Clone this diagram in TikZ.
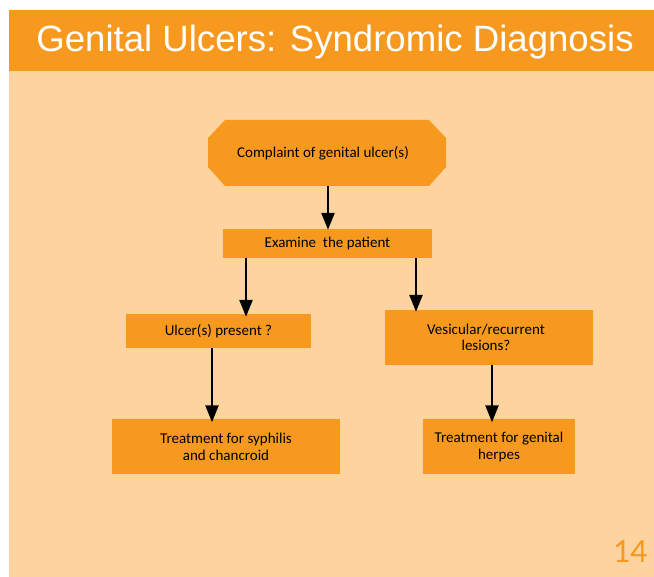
\documentclass[tikz,border=0pt]{standalone}
\usepackage{fontspec}
\setmainfont{Carlito}
\newfontfamily\titlefont{Liberation Sans}
\usetikzlibrary{arrows.meta}
\definecolor{slideorange}{HTML}{F7991F}
\definecolor{slidepeach}{HTML}{FDD3A0}
\definecolor{pagenum}{HTML}{F7991F}
\begin{document}
\begin{tikzpicture}[x=1pt,y=-1pt,
  box/.style={fill=slideorange,draw=none,align=center,font=\fontsize{15}{16.5}\selectfont,text=black,inner sep=0pt},
  flow/.style={-{Triangle[length=17pt,width=13pt]},line width=2.5pt,black}]
\useasboundingbox (0,0) rectangle (654,577);
% slide background and title band
\fill[white] (0,0) rectangle (654,577);
\fill[slidepeach] (9,10) rectangle (654,577);
\fill[slideorange] (9,10) rectangle (654,71);
\node[text=white,font=\titlefont\fontsize{36.6}{40}\selectfont,anchor=center] (title) at (335,42) {Genital Ulcers: Syndromic Diagnosis};
% octagonal start box
\fill[slideorange] (225,120) -- (429,120) -- (446,138) -- (446,167) -- (429,186) -- (225,186) -- (208,167) -- (208,138) -- cycle;
\node[box,fill=none,minimum width=238pt,minimum height=66pt] (start) at (323,153) {Complaint of genital ulcer(s)};
% flow boxes
\node[box,minimum width=209pt,minimum height=29pt] (exam) at (327.5,243.5) {Examine\ \ the patient};
\node[box,minimum width=185pt,minimum height=34pt] (ulcer) at (218.5,331) {Ulcer(s) present ?};
\node[box,minimum width=208pt,minimum height=55pt] (vesic) at (489,337.5) {};
\node[box,fill=none] (vesictext) at (486,337.5) {Vesicular/recurrent\\lesions?};
\node[box,minimum width=228pt,minimum height=55pt] (treat1) at (226,447) {Treatment for syphilis\\and chancroid};
\node[box,minimum width=152pt,minimum height=55pt] (treat2) at (499,447) {Treatment for genital\\herpes};
% connectors
\draw[flow] (start.south -| 328,0) -- ([yshift=-1pt]exam.north -| 328,0);
\draw[flow] (exam.south -| 246,0) -- ([yshift=-3pt]ulcer.north -| 246,0);
\draw[flow] (exam.south -| 416,0) -- ([yshift=-2pt]vesic.north -| 416,0);
\draw[flow] (ulcer.south -| 212,0) -- ([yshift=-3pt]treat1.north -| 212,0);
\draw[flow] (vesic.south -| 492,0) -- ([yshift=-3pt]treat2.north -| 492,0);
% page number
\node[text=pagenum,font=\fontsize{34}{40}\selectfont,anchor=center] (pnum) at (630,552) {14};
\end{tikzpicture}
\end{document}
